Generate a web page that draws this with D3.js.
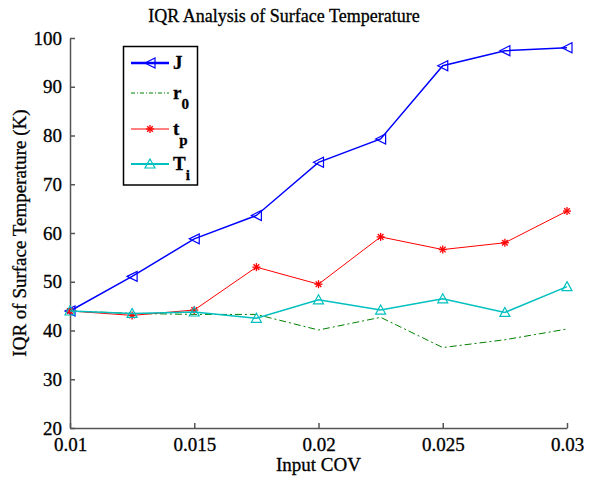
<!DOCTYPE html>
<meta charset="utf-8">
<style>
  body { margin: 0; background: #fff; }
  text { font-family: "Liberation Serif", "Times New Roman", serif; fill: #000; stroke: #000; stroke-width: 0.3px; }
</style>
<body>
<div id="chart"></div>
<script src="https://d3js.org/d3.v7.min.js"></script>
<script>
// input COV values
var cov = [0.01, 0.0125, 0.015, 0.0175, 0.02, 0.0225, 0.025, 0.0275, 0.03];
// IQR of surface temperature (K) per parameter
var J_vals  = [44.0, 51.1, 58.8, 63.6, 74.5, 79.3, 94.3, 97.4, 98.0];
var r0_vals = [44.0, 43.5, 43.3, 43.3, 40.1, 42.7, 36.5, 38.1, 40.3];
var tp_vals = [44.0, 43.1, 44.2, 53.0, 49.5, 59.2, 56.6, 58.0, 64.5];
var Ti_vals = [44.0, 43.5, 43.8, 42.5, 46.3, 44.2, 46.5, 43.7, 49.0];
var xTicks = [0.01, 0.015, 0.02, 0.025, 0.03];
var xTickLabels = ["0.01", "0.015", "0.02", "0.025", "0.03"];
var yTicks = [20, 30, 40, 50, 60, 70, 80, 90, 100];

var width = 602, height = 478;
var plotLeft = 70, plotRight = 567, plotTop = 38, plotBottom = 428;

var svg = d3.select("#chart").append("svg")
  .attr("width", width)
  .attr("height", height);

var x = d3.scaleLinear().domain([0.01, 0.03]).range([plotLeft, plotRight]);
var y = d3.scaleLinear().domain([20, 100]).range([plotBottom, plotTop]);

// axes (ticks point inward, like matlab)
var xAxis = d3.axisBottom(x).tickValues(xTicks)
  .tickFormat(function(d, i) { return xTickLabels[i]; })
  .tickSizeInner(-5).tickSizeOuter(0).tickPadding(10);
var yAxis = d3.axisLeft(y).tickValues(yTicks)
  .tickSizeInner(-5).tickSizeOuter(0).tickPadding(8);

var gx = svg.append("g").attr("transform", "translate(0," + plotBottom + ")").call(xAxis);
var gy = svg.append("g").attr("transform", "translate(" + plotLeft + ",0)").call(yAxis);
[gx, gy].forEach(function(g) {
  g.selectAll("path, line").attr("stroke", "#555").attr("stroke-width", 1.5);
  g.selectAll("text").style("font-size", "19px").attr("fill", "#000");
});

var series = [
  { name: "J", sub: "", vals: J_vals, color: "#0000ff", dash: null, marker: "left", w: 1.5, lw: 2.5 },
  { name: "r", sub: "0", vals: r0_vals, color: "#008000", dash: "7,3,2,3", marker: null, w: 1, lw: 1 },
  { name: "t", sub: "p", vals: tp_vals, color: "#ff0000", dash: null, marker: "star", w: 1, lw: 1 },
  { name: "T", sub: "i", vals: Ti_vals, color: "#00bfbf", dash: null, marker: "up", w: 1.5, lw: 2 }
];

var line = d3.line()
  .x(function(d, i) { return x(cov[i]); })
  .y(function(d) { return y(d); });

function drawMarker(g, type, cx, cy, color) {
  var s = 5;
  if (type == "left") {
    g.append("path")
      .attr("d", "M" + (cx - s) + "," + cy + "L" + (cx + s) + "," + (cy - s) + "L" + (cx + s) + "," + (cy + s) + "Z")
      .attr("fill", "none").attr("stroke", color).attr("stroke-width", 1.2);
  } else if (type == "up") {
    g.append("path")
      .attr("d", "M" + cx + "," + (cy - s) + "L" + (cx + s) + "," + (cy + s * 0.8) + "L" + (cx - s) + "," + (cy + s * 0.8) + "Z")
      .attr("fill", "none").attr("stroke", color).attr("stroke-width", 1.2);
  } else if (type == "star") {
    var r = 4;
    for (var a = 0; a < 4; a++) {
      var ang = a * Math.PI / 4;
      g.append("line")
        .attr("x1", cx - r * Math.cos(ang)).attr("y1", cy - r * Math.sin(ang))
        .attr("x2", cx + r * Math.cos(ang)).attr("y2", cy + r * Math.sin(ang))
        .attr("stroke", color).attr("stroke-width", 1.3);
    }
  }
}

series.forEach(function(s) {
  var g = svg.append("g");
  g.append("path")
    .datum(s.vals)
    .attr("d", line)
    .attr("fill", "none")
    .attr("stroke", s.color)
    .attr("stroke-width", s.w)
    .attr("stroke-dasharray", s.dash);
  if (s.marker) {
    s.vals.forEach(function(v, i) {
      drawMarker(g, s.marker, x(cov[i]), y(v), s.color);
    });
  }
});

// legend
var leg = svg.append("g");
leg.append("rect")
  .attr("x", 123.5).attr("y", 46.5).attr("width", 74).attr("height", 138.5)
  .attr("fill", "#fff").attr("stroke", "#000").attr("stroke-width", 1.5);
var legY = [63, 93, 129, 164];
series.forEach(function(s, i) {
  var ly = legY[i];
  leg.append("line")
    .attr("x1", 131).attr("x2", 169).attr("y1", ly).attr("y2", ly)
    .attr("stroke", s.color).attr("stroke-width", s.lw)
    .attr("stroke-dasharray", s.dash ? "4,2,1,2" : null);
  if (s.marker) drawMarker(leg, s.marker, 150, ly, s.color);
  var t = leg.append("text")
    .attr("x", 173).attr("y", ly + 6)
    .style("font-size", "19px").style("font-weight", "bold")
    .text(s.name);
  if (s.sub) {
    t.append("tspan").attr("dy", 10).style("font-size", "15px").text(s.sub);
  }
});

// title and labels
svg.append("text")
  .attr("x", 284).attr("y", 22)
  .attr("text-anchor", "middle")
  .style("font-size", "18px")
  .text("IQR Analysis of Surface Temperature");

svg.append("text")
  .attr("x", (plotLeft + plotRight) / 2).attr("y", 471)
  .attr("text-anchor", "middle")
  .style("font-size", "19px")
  .text("Input COV");

svg.append("text")
  .attr("transform", "translate(26," + ((plotTop + plotBottom) / 2) + ") rotate(-90)")
  .attr("text-anchor", "middle")
  .style("font-size", "19px")
  .text("IQR of Surface Temperature (K)");
</script>
</body>
